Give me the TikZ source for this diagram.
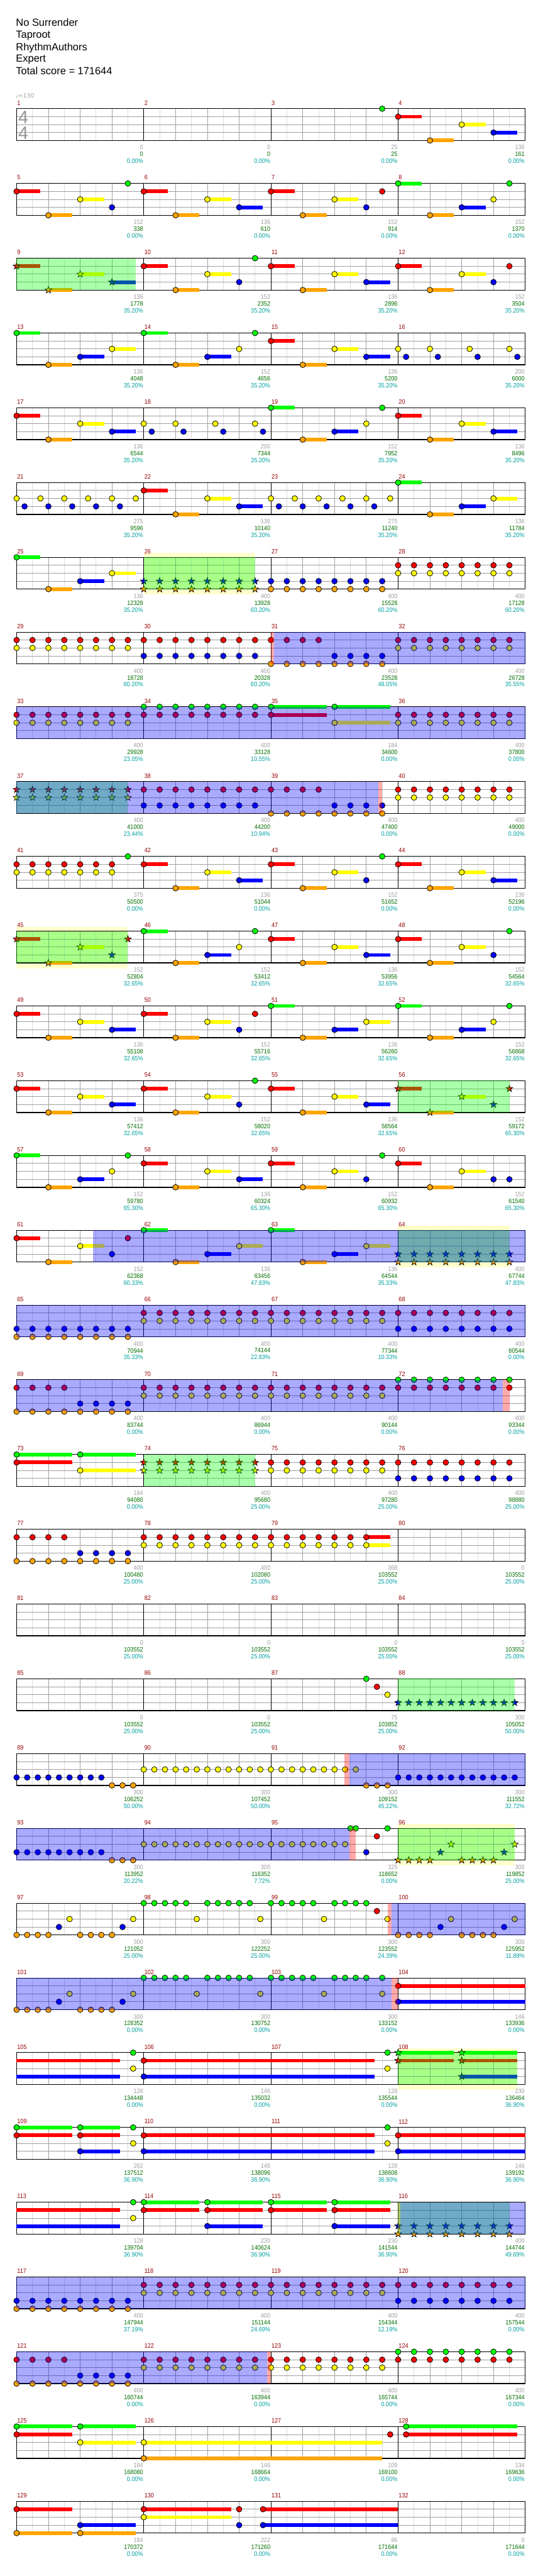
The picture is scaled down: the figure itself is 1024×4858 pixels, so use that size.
\documentclass[tikz,border=0pt]{standalone}
\usepackage{fontspec}
\setmainfont{Liberation Sans}
\newfontfamily\numfont[FakeStretch=0.9]{Liberation Sans}
\newfontfamily\symfont{DejaVu Sans}
\definecolor{l0}{RGB}{0,255,0}
\definecolor{l1}{RGB}{255,0,0}
\definecolor{l2}{RGB}{255,255,0}
\definecolor{l3}{RGB}{0,0,255}
\definecolor{l4}{RGB}{255,165,0}
\definecolor{numred}{RGB}{153,0,0}
\definecolor{cntgray}{RGB}{160,160,160}
\definecolor{scrgreen}{RGB}{0,110,0}
\definecolor{pctteal}{RGB}{0,160,160}
\definecolor{grid8}{RGB}{220,220,220}
\definecolor{gridb}{RGB}{160,160,160}
\definecolor{ylw}{RGB}{255,255,204}
\definecolor{tsgray}{RGB}{150,150,150}

\newcommand\mposs[1]{%
  \pgfmathtruncatemacro\qrow{(#1-1)/4}%
  \pgfmathtruncatemacro\qcol{mod(#1-1,4)}%
  \pgfmathsetmacro\qxo{31.3+240*\qcol}%
  \pgfmathsetmacro\qyo{205+141*\qrow}}
\newcommand\gnote[4]{%
  \mposs{#1}%
  \pgfmathsetmacro\qx{\qxo+60*(#2)}%
  \pgfmathsetmacro\qy{\qyo+15*(#3)}%
  \pgfmathsetmacro\qlen{60*(#4)}%
  \ifdim #4pt>0pt \fill[l#3] (\qx,\qy-3.5) rectangle ++(\qlen,7);\fi
  \draw[fill=l#3,line width=0.9] (\qx,\qy) circle[radius=5.3];}
\newcommand\gtail[4]{%
  \mposs{#1}%
  \pgfmathsetmacro\qx{\qxo+60*(#2)}%
  \pgfmathsetmacro\qy{\qyo+15*(#3)}%
  \pgfmathsetmacro\qlen{60*(#4)}%
  \fill[l#3] (\qx,\qy-3.5) rectangle ++(\qlen,7);}
\newcommand\gstar[4]{%
  \mposs{#1}%
  \pgfmathsetmacro\qx{\qxo+60*(#2)}%
  \pgfmathsetmacro\qy{\qyo+15*(#3)}%
  \pgfmathsetmacro\qlen{60*(#4)}%
  \ifdim #4pt>0pt \fill[l#3] (\qx,\qy-3.5) rectangle ++(\qlen,7);\fi
  \draw[fill=l#3,line width=0.8,line join=miter] (\qx,\qy) +(0,-6.8) -- +(1.6,-2.2) -- +(6.47,-2.1) -- +(2.59,0.84) -- +(4.0,5.5) -- +(0,2.72) -- +(-4.0,5.5) -- +(-2.59,0.84) -- +(-6.47,-2.1) -- +(-1.6,-2.2) -- cycle;}
\newcommand\grun[6]{\foreach \qk in {1,...,#6}{\pgfmathsetmacro\qbb{#4+#5*(\qk-1)}#1{#2}{\qbb}{#3}{0}}}
% patterns
\newcommand\patA[2]{#1{#2}{0}{1}{.75}#1{#2}{1}{4}{.75}#1{#2}{2}{2}{.75}#1{#2}{3}{3}{.75}}
\newcommand\patB[2]{#1{#2}{0}{1}{.75}#1{#2}{1}{4}{.75}#1{#2}{2}{2}{.75}#1{#2}{3}{3}{0}#1{#2}{3.5}{0}{0}}
\newcommand\patC[2]{#1{#2}{0}{1}{.75}#1{#2}{1}{4}{.75}#1{#2}{2}{2}{.75}#1{#2}{3}{3}{0}#1{#2}{3.5}{1}{0}}
\newcommand\patD[2]{#1{#2}{0}{0}{.75}#1{#2}{1}{4}{.75}#1{#2}{2}{3}{.75}#1{#2}{3}{2}{0}#1{#2}{3.5}{0}{0}}
\newcommand\patE[2]{#1{#2}{0}{0}{.75}#1{#2}{1}{4}{.75}#1{#2}{2}{3}{.75}#1{#2}{3}{2}{.75}}
\newcommand\patF[1]{\gnote{#1}{0}{2}{0}\gnote{#1}{.25}{3}{0}\gnote{#1}{1}{2}{0}\gnote{#1}{1.25}{3}{0}\gnote{#1}{2.25}{2}{0}\gnote{#1}{2.5}{3}{0}\gnote{#1}{3.5}{2}{0}\gnote{#1}{3.75}{3}{0}}
\newcommand\patG[1]{\gnote{#1}{0}{2}{0}\gnote{#1}{.25}{3}{0}\gnote{#1}{.75}{2}{0}\gnote{#1}{1}{3}{0}\gnote{#1}{1.5}{2}{0}\gnote{#1}{1.75}{3}{0}\gnote{#1}{2.25}{2}{0}\gnote{#1}{2.5}{3}{0}\gnote{#1}{3}{2}{0}\gnote{#1}{3.25}{3}{0}\gnote{#1}{3.75}{2}{0}}
\newcommand\patH[2]{#1{#2}{0}{0}{1.75}#1{#2}{0}{1}{1.75}#1{#2}{2}{0}{1.75}#1{#2}{2}{2}{1.75}}
\newcommand\patM[2]{#1{#2}{0}{0}{1.75}#1{#2}{0}{1}{1.75}#1{#2}{2}{0}{1.75}#1{#2}{2}{1}{1.75}#1{#2}{2}{3}{1.75}}
\newcommand\patP[4]{\grun{#1}{#2}{#3}{0}{.5}{8}\grun{#1}{#2}{#4}{0}{.5}{8}}
\newcommand\patS[2]{\grun{#1}{#2}{1}{0}{.5}{4}\grun{#1}{#2}{3}{2}{.5}{4}\grun{#1}{#2}{4}{0}{.5}{8}}
\newcommand\patK[2]{\grun{#1}{#2}{4}{0}{.333333}{4}#1{#2}{1.333333}{3}{0}#1{#2}{1.666667}{2}{0}\grun{#1}{#2}{4}{2}{.333333}{4}#1{#2}{3.333333}{3}{0}#1{#2}{3.666667}{2}{0}}
\newcommand\patL[2]{\grun{#1}{#2}{0}{0}{.333333}{5}#1{#2}{1.666667}{2}{0}\grun{#1}{#2}{0}{2}{.333333}{5}#1{#2}{3.666667}{2}{0}}
% overlays
\newcommand\ovl[4]{\mposs{#2}\fill[#1,opacity=0.3333] (\qxo+60*#3,\qyo) rectangle (\qxo+60*#4,\qyo+60);}
\newcommand\ybd[3]{\mposs{#1}\fill[ylw] (\qxo+60*#2,\qyo-8) rectangle (\qxo+60*#3,\qyo+70);}
% labels
\tikzset{
  mnumst/.style={anchor=west,inner sep=0pt,text=numred,font=\numfont\fontsize{12}{12}\selectfont},
  cntst/.style={anchor=east,inner sep=0pt,text=cntgray,font=\numfont\fontsize{12}{12}\selectfont},
  scrst/.style={anchor=east,inner sep=0pt,text=scrgreen,font=\numfont\fontsize{12}{12}\selectfont},
  pctst/.style={anchor=east,inner sep=0pt,text=pctteal,font=\numfont\fontsize{12}{12}\selectfont},
  headst/.style={anchor=base west,inner sep=0pt,font=\fontsize{19.5}{20}\selectfont},
  tsst/.style={inner sep=0pt,text=tsgray,font=\fontsize{34}{34}\selectfont},
}
\newcommand\mlab[4]{\mposs{#1}%
  \node[mnumst] (mn#1) at (\qxo+1,\qyo-11) {#1};
  \node[cntst] (mc#1) at (\qxo+239,\qyo+73) {#2};
  \node[scrst] (ms#1) at (\qxo+239,\qyo+86) {#3};
  \node[pctst] (mp#1) at (\qxo+239,\qyo+99) {#4\%};}

\begin{document}
\begin{tikzpicture}[x=1pt,y=-1pt]
\fill[white] (0,0) rectangle (1024,4858);
\useasboundingbox (0,0) rectangle (1024,4858);

% yellow bands
\ybd{26}{0}{3.5}\ybd{45}{0}{3.5}\ybd{64}{0}{3.5}\ybd{96}{0}{3.66}\ybd{108}{0}{3.74}

% grid
\foreach \r in {0,...,32}{
  \pgfmathsetmacro\gy{205+141*\r}
  \foreach \c in {0,...,3}{
    \foreach \b in {0.5,1.5,2.5,3.5} \draw[grid8,line width=1] (31.3+240*\c+60*\b,\gy) -- ++(0,60);
    \foreach \b in {1,2,3} \draw[gridb,line width=1] (31.3+240*\c+60*\b,\gy) -- ++(0,60);
  }
  \foreach \l in {15,30,45} \draw[gridb,line width=1] (31.3,\gy+\l) -- (991.3,\gy+\l);
  \foreach \c in {0,...,4} \draw[black,line width=1.1] (31.3+240*\c,\gy) -- ++(0,60);
  \draw[black,line width=1.1] (31.3,\gy) -- (991.3,\gy);
  \draw[black,line width=1.6] (31.3,\gy+60) -- (991.3,\gy+60);
}

% time signature and tempo
\node[tsst] (tsa) at (44,221) {4};
\node[tsst] (tsb) at (44,251) {4};

% notes
\gnote{3}{3.5}{0}{0}
\patA\gnote{4}
\patB\gnote{5}\patA\gnote{6}\patC\gnote{7}\patD\gnote{8}
\patA\gstar{9}\patB\gnote{10}\patA\gnote{11}\patC\gnote{12}
\patE\gnote{13}\patD\gnote{14}\patA\gnote{15}\patF{16}
\patA\gnote{17}\patF{18}\patD\gnote{19}\patA\gnote{20}
\patG{21}\patA\gnote{22}\patG{23}\patE\gnote{24}
\patE\gnote{25}\patP\gstar{26}{3}{4}\patP\gnote{27}{3}{4}\patP\gnote{28}{1}{2}
\patP\gnote{29}{1}{2}\patP\gnote{30}{1}{3}\patS\gnote{31}\patP\gnote{32}{1}{2}
\patP\gnote{33}{1}{2}\patP\gnote{34}{0}{1}\patH\gnote{35}\patP\gnote{36}{1}{2}
\patP\gstar{37}{1}{2}\patP\gnote{38}{1}{3}\patS\gnote{39}\patP\gnote{40}{1}{2}
\grun\gnote{41}{1}{0}{.5}{7}\grun\gnote{41}{2}{0}{.5}{7}\gnote{41}{3.5}{0}{0}
\patA\gnote{42}\patB\gnote{43}\patA\gnote{44}
\patC\gstar{45}\patD\gnote{46}\patA\gnote{47}\patB\gnote{48}
\patA\gnote{49}\patC\gnote{50}\patE\gnote{51}\patD\gnote{52}
\patA\gnote{53}\patB\gnote{54}\patA\gnote{55}\patC\gstar{56}
\patD\gnote{57}\patA\gnote{58}\patB\gnote{59}
\gnote{60}{0}{1}{.75}\gnote{60}{1}{4}{.75}\gnote{60}{2}{2}{.75}\gnote{60}{3}{3}{0}\gnote{60}{3.5}{3}{0}
\patC\gnote{61}\patE\gnote{62}\patE\gnote{63}\patP\gstar{64}{3}{4}
\patP\gnote{65}{3}{4}\patP\gnote{66}{1}{2}\patP\gnote{67}{1}{2}\patP\gnote{68}{1}{3}
\patS\gnote{69}\patP\gnote{70}{1}{2}\patP\gnote{71}{1}{2}\patP\gnote{72}{0}{1}
\patH\gnote{73}\patP\gstar{74}{1}{2}\patP\gnote{75}{1}{2}\patP\gnote{76}{1}{3}
\patS\gnote{77}\patP\gnote{78}{1}{2}
\grun\gnote{79}{1}{0}{.5}{6}\grun\gnote{79}{2}{0}{.5}{6}\gnote{79}{3}{1}{.75}\gnote{79}{3}{2}{.75}
\gnote{87}{3}{0}{0}\gnote{87}{3.333333}{1}{0}\gnote{87}{3.666667}{2}{0}
\grun\gstar{88}{3}{0}{.333333}{12}
\grun\gnote{89}{3}{0}{.333333}{9}\grun\gnote{89}{4}{3}{.333333}{3}
\grun\gnote{90}{2}{0}{.333333}{12}
\grun\gnote{91}{2}{0}{.333333}{9}\grun\gnote{91}{4}{3}{.333333}{3}
\grun\gnote{92}{3}{0}{.333333}{12}
\grun\gnote{93}{3}{0}{.333333}{9}\grun\gnote{93}{4}{3}{.333333}{3}
\grun\gnote{94}{2}{0}{.333333}{12}
\grun\gnote{95}{2}{0}{.333333}{8}\gnote{95}{2.5}{0}{0}\gnote{95}{2.666667}{0}{0}\gnote{95}{3}{3}{0}\gnote{95}{3.333333}{1}{0}\gnote{95}{3.666667}{0}{0}
\patK\gstar{96}
\patK\gnote{97}\patL\gnote{98}
\grun\gnote{99}{0}{0}{.333333}{5}\gnote{99}{1.666667}{2}{0}\grun\gnote{99}{0}{2}{.333333}{4}\gnote{99}{3.333333}{1}{0}\gnote{99}{3.666667}{2}{0}
\patK\gnote{100}
\patK\gnote{101}\patL\gnote{102}
\grun\gnote{103}{0}{0}{.333333}{5}\gnote{103}{1.666667}{2}{0}\grun\gnote{103}{0}{2}{.333333}{4}\gnote{103}{3.5}{0}{0}\gnote{103}{3.5}{2}{0}
\gnote{104}{0}{1}{4}\gnote{104}{0}{3}{4}
\gtail{105}{0}{1}{3.25}\gtail{105}{0}{3}{3.25}\gnote{105}{3.666667}{0}{0}\gnote{105}{3.666667}{2}{0}
\gnote{106}{0}{1}{7.25}\gnote{106}{0}{3}{7.25}
\gnote{107}{3.666667}{0}{0}\gnote{107}{3.666667}{2}{0}
\patM\gstar{108}
\gnote{109}{0}{0}{1.75}\gnote{109}{0}{1}{1.75}\gnote{109}{2}{0}{1.25}\gnote{109}{2}{1}{1.25}\gnote{109}{2}{3}{1.25}\gnote{109}{3.666667}{0}{0}\gnote{109}{3.666667}{2}{0}
\gnote{110}{0}{1}{7.25}\gnote{110}{0}{3}{7.25}
\gnote{111}{3.666667}{0}{0}\gnote{111}{3.666667}{2}{0}
\gnote{112}{0}{1}{4}\gnote{112}{0}{3}{4}
\gtail{113}{0}{1}{3.25}\gtail{113}{0}{3}{3.25}\gnote{113}{3.666667}{0}{0}\gnote{113}{3.666667}{2}{0}
\patM\gnote{114}\patM\gnote{115}\patP\gstar{116}{3}{4}
\patP\gnote{117}{3}{4}\patP\gnote{118}{1}{2}\patP\gnote{119}{1}{2}\patP\gnote{120}{1}{3}
\patS\gnote{121}\patP\gnote{122}{1}{2}\patP\gnote{123}{1}{2}\patP\gnote{124}{0}{1}
\patH\gnote{125}
\gnote{126}{0}{2}{7.5}\gnote{126}{0}{4}{7.5}
\gnote{127}{3.75}{1}{0}
\gnote{128}{.25}{0}{3.5}\gnote{128}{.25}{1}{3.5}
\gnote{129}{0}{1}{1.75}\gnote{129}{0}{4}{1.75}\gnote{129}{2}{3}{1.75}\gnote{129}{2}{4}{1.75}
\gnote{130}{0}{1}{2.75}\gnote{130}{0}{2}{2.75}\gnote{130}{3}{1}{0}\gnote{130}{3}{3}{0}\gnote{130}{3.75}{1}{4.25}\gnote{130}{3.75}{3}{4.25}

% overlays: red, green, blue
\ovl{l1}{31}{0}{0.09}\ovl{l1}{39}{3.37}{3.5}\ovl{l1}{72}{3.3}{3.5}\ovl{l1}{91}{2.32}{2.46}
\ovl{l1}{95}{2.46}{2.66}\ovl{l1}{99}{3.67}{3.795}\ovl{l1}{103}{3.795}{4}\ovl{l1}{116}{0}{0.073}
\ovl{l1}{122}{3.885}{4}
\ovl{l0}{9}{0}{3.75}\ovl{l0}{26}{0}{3.5}\ovl{l0}{37}{0}{3.5}\ovl{l0}{45}{0}{3.5}
\ovl{l0}{56}{0}{3.5}\ovl{l0}{64}{0}{3.5}\ovl{l0}{74}{0}{3.5}\ovl{l0}{88}{0}{3.66}
\ovl{l0}{96}{0}{3.66}\ovl{l0}{108}{0}{3.74}\ovl{l0}{116}{0}{3.5}
\ovl{l3}{31}{0.09}{8}\ovl{l3}{33}{0}{16}\ovl{l3}{37}{0}{11.37}\ovl{l3}{61}{2.395}{16}
\ovl{l3}{65}{0}{16}\ovl{l3}{69}{0}{15.3}\ovl{l3}{91}{2.46}{8}\ovl{l3}{93}{0}{10.46}
\ovl{l3}{99}{3.795}{8}\ovl{l3}{101}{0}{11.795}\ovl{l3}{116}{0.073}{4}\ovl{l3}{117}{0}{16}
\ovl{l3}{121}{0}{7.885}

% header
\node[headst] (title) at (30,49) {No Surrender};
\node[headst] (artist) at (30,72) {Taproot};
\node[headst] (author) at (30,95) {RhythmAuthors};
\node[headst] (diff) at (30,117) {Expert};
\node[headst] (total) at (30,141) {Total score = 171644};
\node[anchor=west,inner sep=0pt,text=cntgray,font=\symfont\fontsize{11}{11}\selectfont] (tempo) at (29,181) {♩=130};

% measure labels
\mlab{1}{0}{0}{0.00}\mlab{2}{0}{0}{0.00}\mlab{3}{25}{25}{0.00}\mlab{4}{136}{161}{0.00}
\mlab{5}{152}{338}{0.00}\mlab{6}{136}{610}{0.00}\mlab{7}{152}{914}{0.00}\mlab{8}{152}{1370}{0.00}
\mlab{9}{136}{1778}{35.20}\mlab{10}{152}{2352}{35.20}\mlab{11}{136}{2896}{35.20}\mlab{12}{152}{3504}{35.20}
\mlab{13}{136}{4048}{35.20}\mlab{14}{152}{4656}{35.20}\mlab{15}{136}{5200}{35.20}\mlab{16}{200}{6000}{35.20}
\mlab{17}{136}{6544}{35.20}\mlab{18}{200}{7344}{35.20}\mlab{19}{152}{7952}{35.20}\mlab{20}{136}{8496}{35.20}
\mlab{21}{275}{9596}{35.20}\mlab{22}{136}{10140}{35.20}\mlab{23}{275}{11240}{35.20}\mlab{24}{136}{11784}{35.20}
\mlab{25}{136}{12328}{35.20}\mlab{26}{400}{13928}{60.20}\mlab{27}{400}{15528}{60.20}\mlab{28}{400}{17128}{60.20}
\mlab{29}{400}{18728}{60.20}\mlab{30}{400}{20328}{60.20}\mlab{31}{400}{23528}{48.05}\mlab{32}{400}{26728}{35.55}
\mlab{33}{400}{29928}{23.05}\mlab{34}{400}{33128}{10.55}\mlab{35}{184}{34600}{0.00}\mlab{36}{400}{37800}{0.00}
\mlab{37}{400}{41000}{23.44}\mlab{38}{400}{44200}{10.94}\mlab{39}{400}{47400}{0.00}\mlab{40}{400}{49000}{0.00}
\mlab{41}{375}{50500}{0.00}\mlab{42}{136}{51044}{0.00}\mlab{43}{152}{51652}{0.00}\mlab{44}{136}{52196}{0.00}
\mlab{45}{152}{52804}{32.65}\mlab{46}{152}{53412}{32.65}\mlab{47}{136}{53956}{32.65}\mlab{48}{152}{54564}{32.65}
\mlab{49}{136}{55108}{32.65}\mlab{50}{152}{55716}{32.65}\mlab{51}{136}{56260}{32.65}\mlab{52}{152}{56868}{32.65}
\mlab{53}{136}{57412}{32.65}\mlab{54}{152}{58020}{32.65}\mlab{55}{136}{58564}{32.65}\mlab{56}{152}{59172}{65.30}
\mlab{57}{152}{59780}{65.30}\mlab{58}{136}{60324}{65.30}\mlab{59}{152}{60932}{65.30}\mlab{60}{152}{61540}{65.30}
\mlab{61}{152}{62368}{60.33}\mlab{62}{136}{63456}{47.83}\mlab{63}{136}{64544}{35.33}\mlab{64}{400}{67744}{47.83}
\mlab{65}{400}{70944}{35.33}\mlab{66}{400}{74144}{22.83}\mlab{67}{400}{77344}{10.33}\mlab{68}{400}{80544}{0.00}
\mlab{69}{400}{83744}{0.00}\mlab{70}{400}{86944}{0.00}\mlab{71}{400}{90144}{0.00}\mlab{72}{400}{93344}{0.00}
\mlab{73}{184}{94080}{0.00}\mlab{74}{400}{95680}{25.00}\mlab{75}{400}{97280}{25.00}\mlab{76}{400}{98880}{25.00}
\mlab{77}{400}{100480}{25.00}\mlab{78}{400}{102080}{25.00}\mlab{79}{368}{103552}{25.00}\mlab{80}{0}{103552}{25.00}
\mlab{81}{0}{103552}{25.00}\mlab{82}{0}{103552}{25.00}\mlab{83}{0}{103552}{25.00}\mlab{84}{0}{103552}{25.00}
\mlab{85}{0}{103552}{25.00}\mlab{86}{0}{103552}{25.00}\mlab{87}{75}{103852}{25.00}\mlab{88}{300}{105052}{50.00}
\mlab{89}{300}{106252}{50.00}\mlab{90}{300}{107452}{50.00}\mlab{91}{300}{109152}{45.22}\mlab{92}{300}{111552}{32.72}
\mlab{93}{300}{113952}{20.22}\mlab{94}{300}{116352}{7.72}\mlab{95}{325}{118652}{0.00}\mlab{96}{300}{119852}{25.00}
\mlab{97}{300}{121052}{25.00}\mlab{98}{300}{122252}{25.00}\mlab{99}{300}{123552}{24.39}\mlab{100}{300}{125952}{11.89}
\mlab{101}{300}{128352}{0.00}\mlab{102}{300}{130752}{0.00}\mlab{103}{300}{133152}{0.00}\mlab{104}{146}{133936}{0.00}
\mlab{105}{128}{134448}{0.00}\mlab{106}{146}{135032}{0.00}\mlab{107}{128}{135544}{0.00}\mlab{108}{230}{136464}{36.90}
\mlab{109}{262}{137512}{36.90}\mlab{110}{146}{138096}{36.90}\mlab{111}{128}{138608}{36.90}\mlab{112}{146}{139192}{36.90}
\mlab{113}{128}{139704}{36.90}\mlab{114}{230}{140624}{36.90}\mlab{115}{230}{141544}{36.90}\mlab{116}{400}{144744}{49.69}
\mlab{117}{400}{147944}{37.19}\mlab{118}{400}{151144}{24.69}\mlab{119}{400}{154344}{12.19}\mlab{120}{400}{157544}{0.00}
\mlab{121}{400}{160744}{0.00}\mlab{122}{400}{163944}{0.00}\mlab{123}{400}{165744}{0.00}\mlab{124}{400}{167344}{0.00}
\mlab{125}{184}{168080}{0.00}\mlab{126}{146}{168664}{0.00}\mlab{127}{109}{169100}{0.00}\mlab{128}{134}{169636}{0.00}
\mlab{129}{184}{170372}{0.00}\mlab{130}{222}{171260}{0.00}\mlab{131}{96}{171644}{0.00}\mlab{132}{0}{171644}{0.00}
\end{tikzpicture}
\end{document}
